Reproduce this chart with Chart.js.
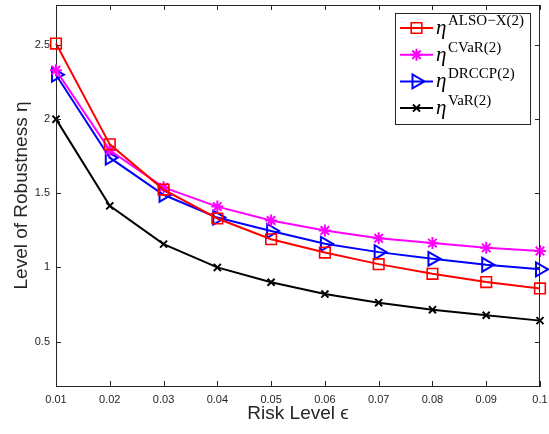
<!DOCTYPE html>
<html>
<head>
<meta charset="utf-8">
<script src="https://cdn.jsdelivr.net/npm/chart.js@4"></script>
<style>
    body { margin: 0; background: #fff; }
    #wrap { width: 549px; height: 434px; }
</style>
</head>
<body>
<div id="wrap"><canvas id="robustGraph" width="549" height="434"></canvas></div>
<script>
// risk levels (x axis)
const riskLevels = [0.01, 0.02, 0.03, 0.04, 0.05, 0.06, 0.07, 0.08, 0.09, 0.1];
const xTickLabels = ['0.01', '0.02', '0.03', '0.04', '0.05', '0.06', '0.07', '0.08', '0.09', '0.1'];
const yTicks = [0.5, 1, 1.5, 2, 2.5];
const yTickLabels = ['0.5', '1', '1.5', '2', '2.5'];

// values
const alsoX = [2.51, 1.83, 1.525, 1.33, 1.19, 1.10, 1.022, 0.957, 0.901, 0.858];
const cvar  = [2.33, 1.79, 1.54, 1.41, 1.316, 1.249, 1.197, 1.164, 1.132, 1.111];
const drccp = [2.30, 1.74, 1.49, 1.336, 1.246, 1.159, 1.103, 1.058, 1.018, 0.987];
const vaR   = [2.0, 1.415, 1.157, 1.0, 0.90, 0.82, 0.762, 0.715, 0.677, 0.641];

const legendSup = ['ALSO\u2212X(2)', 'CVaR(2)', 'DRCCP(2)', 'VaR(2)'];

const axisColor = '#262626';

function toPoints(values) {
    return values.map((v, i) => ({ x: riskLevels[i], y: v }));
}

// no extra room for the edge labels
function noEdgePadding(scale) {
    scale.paddingTop = 0;
    scale.paddingBottom = 0;
    scale.paddingLeft = 0;
    scale.paddingRight = 0;
}

// box on top/right + inward ticks, like matlab
const boxPlugin = {
    id: 'boxPlugin',
    afterDraw(chart) {
        const ctx = chart.ctx;
        const a = chart.chartArea;
        const xs = chart.scales.x;
        const ys = chart.scales.y;
        ctx.save();
        ctx.strokeStyle = axisColor;
        ctx.lineWidth = 1;
        ctx.beginPath();
        ctx.moveTo(a.left, a.top + 0.5);
        ctx.lineTo(a.right, a.top + 0.5);
        ctx.moveTo(a.right - 0.5, a.top);
        ctx.lineTo(a.right - 0.5, a.bottom);
        riskLevels.forEach(v => {
            const px = Math.round(xs.getPixelForValue(v)) + 0.5;
            ctx.moveTo(px, a.bottom);
            ctx.lineTo(px, a.bottom - 5);
            ctx.moveTo(px, a.top);
            ctx.lineTo(px, a.top + 5);
        });
        yTicks.forEach(v => {
            const py = Math.round(ys.getPixelForValue(v)) + 0.5;
            ctx.moveTo(a.left, py);
            ctx.lineTo(a.left + 5, py);
            ctx.moveTo(a.right, py);
            ctx.lineTo(a.right - 5, py);
        });
        ctx.stroke();
        ctx.restore();
    }
};

// legend with superscripts
const legendPlugin = {
    id: 'supLegend',
    afterDraw(chart) {
        const ctx = chart.ctx;
        const box = { x: 395.5, y: 13.5, w: 135, h: 111 };
        ctx.save();
        ctx.fillStyle = '#fff';
        ctx.fillRect(box.x, box.y, box.w, box.h);
        ctx.strokeStyle = axisColor;
        ctx.lineWidth = 1;
        ctx.strokeRect(box.x, box.y, box.w, box.h);

        chart.data.datasets.forEach((ds, i) => {
            const cy = 28 + i * 26.7;
            ctx.strokeStyle = ds.borderColor;
            ctx.lineWidth = 2;
            ctx.beginPath();
            ctx.moveTo(400, cy);
            ctx.lineTo(433, cy);
            ctx.stroke();
            ctx.lineWidth = ds.pointBorderWidth;
            ctx.fillStyle = 'rgba(0,0,0,0)';
            Chart.helpers.drawPoint(ctx, {
                pointStyle: ds.pointStyle,
                radius: ds.pointRadius,
                rotation: ds.pointRotation || 0,
                borderWidth: ds.pointBorderWidth
            }, 416.5, cy);

            ctx.fillStyle = '#000';
            ctx.textBaseline = 'alphabetic';
            ctx.font = 'italic 21px "Liberation Serif"';
            ctx.fillText('\u03b7', 436, cy + 6);
            ctx.font = '15px "Liberation Serif"';
            ctx.fillText(legendSup[i], 448, cy - 3);
        });
        ctx.restore();
    }
};

const ctx = document.getElementById('robustGraph').getContext('2d');

new Chart(ctx, {
    type: 'line',
    data: {
        datasets: [
            {
                label: 'ALSO-X(2)',
                data: toPoints(alsoX),
                borderColor: '#ff0000',
                backgroundColor: 'rgba(0,0,0,0)',
                borderWidth: 2,
                clip: false,
                pointStyle: 'rect',
                pointRadius: 7.5,
                pointBorderWidth: 1.6,
                pointBackgroundColor: 'rgba(0,0,0,0)',
                pointBorderColor: '#ff0000'
            },
            {
                label: 'CVaR(2)',
                data: toPoints(cvar),
                borderColor: '#ff00ff',
                backgroundColor: 'rgba(0,0,0,0)',
                borderWidth: 2,
                clip: false,
                pointStyle: 'star',
                pointRadius: 6,
                pointBorderWidth: 2,
                pointBackgroundColor: 'rgba(0,0,0,0)',
                pointBorderColor: '#ff00ff'
            },
            {
                label: 'DRCCP(2)',
                data: toPoints(drccp),
                borderColor: '#0000ff',
                backgroundColor: 'rgba(0,0,0,0)',
                borderWidth: 2,
                clip: false,
                pointStyle: 'triangle',
                pointRotation: 90,
                pointRadius: 8,
                pointBorderWidth: 2,
                pointBackgroundColor: 'rgba(0,0,0,0)',
                pointBorderColor: '#0000ff'
            },
            {
                label: 'VaR(2)',
                data: toPoints(vaR),
                borderColor: '#000000',
                backgroundColor: 'rgba(0,0,0,0)',
                borderWidth: 2,
                clip: false,
                pointStyle: 'crossRot',
                pointRadius: 5,
                pointBorderWidth: 2,
                pointBackgroundColor: 'rgba(0,0,0,0)',
                pointBorderColor: '#000000'
            }
        ]
    },
    options: {
        responsive: false,
        animation: false,
        layout: { autoPadding: false, padding: { top: 5, right: 9, left: 0, bottom: 0 } },
        plugins: {
            legend: { display: false },
            tooltip: { enabled: false }
        },
        scales: {
            x: {
                type: 'linear',
                min: 0.01,
                max: 0.1,
                afterBuildTicks: scale => {
                    scale.ticks = riskLevels.map(v => ({ value: v }));
                },
                afterFit: scale => {
                    scale.height = 48;
                    noEdgePadding(scale);
                },
                grid: { display: false, drawTicks: false },
                border: { display: true, color: axisColor, width: 1 },
                ticks: {
                    autoSkip: false,
                    maxRotation: 0,
                    padding: 7,
                    color: axisColor,
                    font: { family: '"Liberation Sans", Arial, sans-serif', size: 11 },
                    callback: (value, index) => xTickLabels[index]
                },
                title: {
                    display: true,
                    text: 'Risk Level \u03f5',
                    color: axisColor,
                    padding: { top: 0, bottom: 9 },
                    font: { family: '"Liberation Sans", Arial, sans-serif', size: 19 }
                }
            },
            y: {
                min: 0.2,
                max: 2.77,
                afterBuildTicks: scale => {
                    scale.ticks = yTicks.map(v => ({ value: v }));
                },
                afterFit: scale => {
                    scale.width = 56;
                    noEdgePadding(scale);
                },
                grid: { display: false, drawTicks: false },
                border: { display: true, color: axisColor, width: 1 },
                ticks: {
                    padding: 6,
                    color: axisColor,
                    font: { family: '"Liberation Sans", Arial, sans-serif', size: 11 },
                    callback: (value, index) => yTickLabels[index]
                },
                title: {
                    display: true,
                    text: 'Level of Robustness \u03b7',
                    color: axisColor,
                    padding: { top: 10, bottom: 0 },
                    font: { family: '"Liberation Sans", Arial, sans-serif', size: 19 }
                }
            }
        }
    },
    plugins: [boxPlugin, legendPlugin]
});
</script>
</body>
</html>
